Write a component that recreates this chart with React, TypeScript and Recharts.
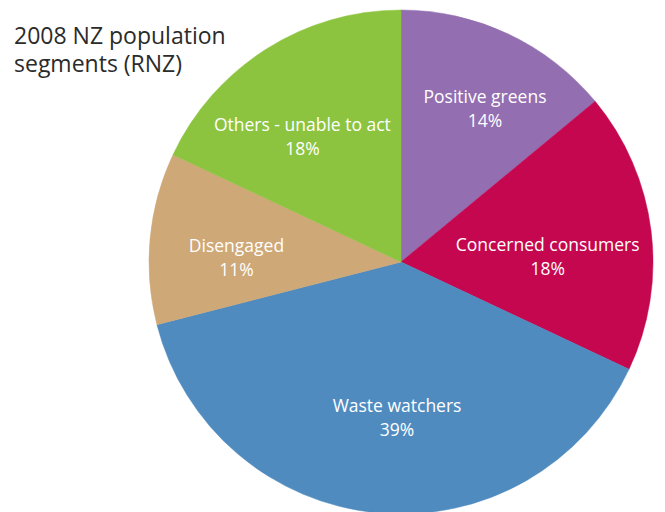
import React from "react";
import { PieChart, Pie, Cell } from "recharts";

const segments = ["Positive greens", "Concerned consumers", "Waste watchers", "Disengaged", "Others - unable to act"];
const shares = [14, 18, 39, 11, 18];
const colors = ["#936EB0", "#C5074F", "#4F8BBF", "#CFA877", "#8CC43F"];
const titleLines = ["2008 NZ population", "segments (RNZ)"];

const data = segments.map((name, i) => ({ name, value: shares[i] }));

const RAD = Math.PI / 180;
// label placement tweaks (radius fraction, clockwise angle shift in degrees)
const labelRadius = [0.673, 0.582, 0.643, 0.653, 0.614];
const labelShift = [4.5, 7.6, -4.0, -6.1, -7.2];

const renderLabel = (props: any) => {
  const { cx, cy, midAngle, outerRadius, index } = props;
  const r = outerRadius * labelRadius[index];
  const a = (midAngle - labelShift[index]) * RAD;
  const x = cx + r * Math.cos(-a);
  const y = cy + r * Math.sin(-a);
  return (
    <text
      x={x}
      y={y}
      fill="#ffffff"
      textAnchor="middle"
      fontFamily="'Open Sans', sans-serif"
      fontSize={17.5}
    >
      <tspan x={x} dy={-12}>{segments[index]}</tspan>
      <tspan x={x} dy={24}>{shares[index]}%</tspan>
    </text>
  );
};

export default function App() {
  return (
    <div style={{ position: "fixed", left: 0, top: 0, width: 665, height: 512, background: "#fff" }}>
      <PieChart width={665} height={512}>
        <Pie
          data={data}
          dataKey="value"
          nameKey="name"
          cx={396}
          cy={257}
          outerRadius={252}
          startAngle={90}
          endAngle={-270}
          label={renderLabel}
          labelLine={false}
          isAnimationActive={false}
        >
          {data.map((d, i) => (
            <Cell key={d.name} fill={colors[i]} stroke={colors[i]} strokeWidth={0.5} />
          ))}
        </Pie>
      </PieChart>
      <div
        style={{
          position: "absolute",
          left: 14,
          top: 21,
          fontFamily: "'Open Sans', sans-serif",
          fontSize: 23,
          lineHeight: "28px",
          color: "#2b2b2b",
        }}
      >
        {titleLines.map((t) => (
          <div key={t}>{t}</div>
        ))}
      </div>
    </div>
  );
}
